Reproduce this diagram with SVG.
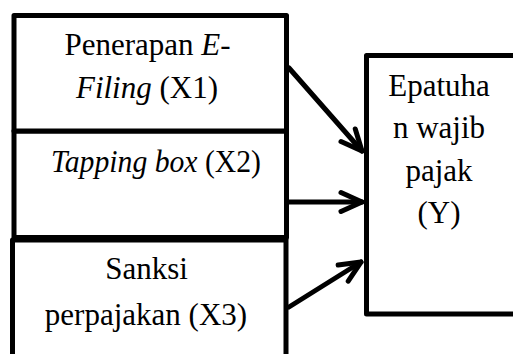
<svg xmlns="http://www.w3.org/2000/svg" width="513" height="354" viewBox="0 0 513 354">
<style>
.box{fill:#fff;stroke:#000;stroke-width:5;stroke-linejoin:round}
.t{font-family:"Liberation Serif","Times New Roman",serif;font-size:31px;fill:#000;text-anchor:middle}
.i{font-style:italic}
.c{stroke:#000;stroke-width:5;fill:none;stroke-linecap:round}
</style>
<defs>
<marker id="ah" viewBox="0 0 24 24" refX="22" refY="12" markerWidth="24" markerHeight="24" markerUnits="userSpaceOnUse" orient="auto" overflow="visible">
<path d="M1,2.5 L22,12 L1,21.5" fill="none" stroke="#000" stroke-width="5" stroke-linecap="round" stroke-linejoin="round"/>
</marker>
</defs>
<rect width="513" height="354" fill="#fff"/>
<g id="y">
<rect class="box" x="366.5" y="55.5" width="160" height="258.5"/>
<text class="t" x="439" y="95.5">Epatuha</text>
<text class="t" x="439" y="138">n wajib</text>
<text class="t" x="439" y="180.5">pajak</text>
<text class="t" x="439" y="222.5">(Y)</text>
</g>
<g id="x3">
<rect class="box" x="12.5" y="240" width="273.5" height="140"/>
<text class="t" x="146.5" y="279">Sanksi</text>
<text class="t" x="146" y="325">perpajakan (X3)</text>
</g>
<g id="x2">
<rect class="box" x="14" y="131" width="272.5" height="106.5"/>
<text class="t" x="156" y="172" textLength="210" lengthAdjust="spacingAndGlyphs"><tspan class="i">Tapping box</tspan> (X2)</text>
</g>
<g id="x1">
<rect class="box" x="14" y="15.5" width="272.5" height="115.5"/>
<text class="t" x="147.5" y="54.5">Penerapan <tspan class="i">E</tspan>-</text>
<text class="t" x="147" y="98"><tspan class="i">Filing</tspan> (X1)</text>
</g>
<g id="connectors">
<line class="c" x1="289" y1="68" x2="362" y2="151" marker-end="url(#ah)"/>
<line class="c" x1="289" y1="202" x2="362" y2="202" marker-end="url(#ah)"/>
<line class="c" x1="289" y1="307" x2="361" y2="262" marker-end="url(#ah)"/>
</g>
</svg>
